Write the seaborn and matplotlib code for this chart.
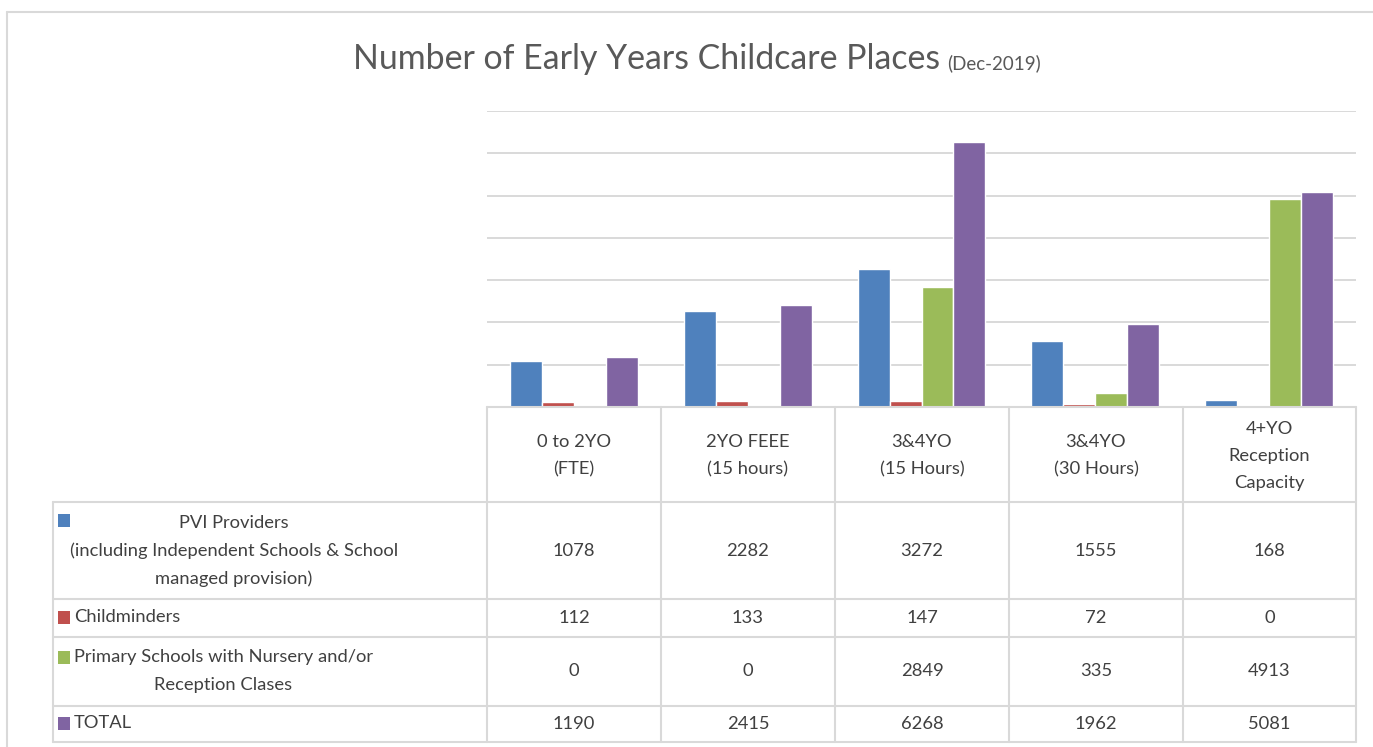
import numpy as np
import pandas as pd
import matplotlib
matplotlib.use('Agg')
import matplotlib.pyplot as plt
from matplotlib.lines import Line2D
import seaborn as sns

# chart data
categories = ['0 to 2YO\n(FTE)', '2YO FEEE\n(15 hours)', '3&4YO\n(15 Hours)',
              '3&4YO\n(30 Hours)', '4+YO\nReception\nCapacity']
series = ['PVI Providers\n(including Independent Schools & School\nmanaged provision)',
          'Childminders',
          'Primary Schools with Nursery and/or\nReception Clases',
          'TOTAL']
pvi = [1078, 2282, 3272, 1555, 168]
childminders = [112, 133, 147, 72, 0]
primary = [0, 0, 2849, 335, 4913]
total = [1190, 2415, 6268, 1962, 5081]
colors = ['#4F81BD', '#C0504D', '#9BBB59', '#8064A2']

values = [pvi, childminders, primary, total]
df = pd.DataFrame([(c, s, v[i]) for s, v in zip(series, values) for i, c in enumerate(categories)],
                  columns=['category', 'series', 'places'])

W, H = 1373, 747
sns.set_theme(style='white')
plt.rcParams['font.family'] = ['Lato', 'DejaVu Sans']
fig = plt.figure(figsize=(W / 100, H / 100), dpi=100)

def fx(x):
    return x / W

def fy(y):
    return 1 - y / H

ax = fig.add_axes([fx(487), fy(407), fx(1356) - fx(487), fy(111) - fy(407)])
sns.barplot(data=df, x='category', y='places', hue='series', order=categories,
            hue_order=series, palette=colors, width=0.735, saturation=1,
            legend=False, ax=ax, zorder=3)
ax.set_ylim(0, 7000)
ax.set_yticks(np.arange(1000, 7001, 1000))
ax.yaxis.grid(True, color='#D9D9D9', lw=1.4)
ax.set_axisbelow(True)
for sp in ax.spines.values():
    sp.set_visible(False)
ax.set_xticks([])
ax.set_yticklabels([])
ax.tick_params(left=False, bottom=False)
ax.set_xlabel('')
ax.set_ylabel('')

line_col = '#D9D9D9'
txt_col = '#404040'
fs = 13.2
ls = 1.85

def hline(y, x0, x1):
    fig.add_artist(Line2D([fx(x0), fx(x1)], [fy(y), fy(y)], color=line_col, lw=1.5))

def vline(x, y0, y1):
    fig.add_artist(Line2D([fx(x), fx(x)], [fy(y0), fy(y1)], color=line_col, lw=1.5))

# outer chart frame
hline(12, 7, W)
vline(7, 12, H)

# data table grid
col_x = [487, 661, 835, 1009, 1183, 1356]
row_y = [502, 599, 637, 706, 742]
hline(407, 487, 1356)
for y in row_y:
    hline(y, 53, 1356)
for x in col_x:
    vline(x, 407, 742)
vline(53, 502, 742)

# header cells
for i, c in enumerate(categories):
    cx = (col_x[i] + col_x[i + 1]) / 2
    fig.text(fx(cx), fy(456), c, ha='center', va='center', fontsize=fs,
             color=txt_col, linespacing=ls)

# row labels and values
row_cy = [551, 618, 671, 724]
sq_tops = [514, 611, 651, 717]
for r, s in enumerate(series):
    fig.add_artist(plt.Rectangle((fx(58), fy(sq_tops[r] + 13)), fx(12), fy(0) - fy(13),
                                 color=colors[r], lw=0))
    if r == 0:
        fig.text(fx(234), fy(row_cy[r]), s, ha='center', va='center', fontsize=fs,
                 color=txt_col, linespacing=ls, multialignment='center')
    elif r == 2:
        fig.text(fx(74), fy(row_cy[r]), s, ha='left', va='center', fontsize=fs,
                 color=txt_col, linespacing=ls, multialignment='center')
    else:
        fig.text(fx(74), fy(row_cy[r] - 1), s, ha='left', va='center', fontsize=fs,
                 color=txt_col)
    for i in range(len(categories)):
        cx = (col_x[i] + col_x[i + 1]) / 2
        fig.text(fx(cx), fy(row_cy[r]), str(values[r][i]), ha='center', va='center',
                 fontsize=fs, color=txt_col)

# title
fig.text(fx(353), fy(69), 'Number of Early Years Childcare Places', ha='left',
         va='baseline', fontsize=24.4, color='#595959')
fig.text(fx(947), fy(69), '(Dec-2019)', ha='left', va='baseline', fontsize=13.5,
         color='#595959')

fig.savefig('out.png', dpi=100)
